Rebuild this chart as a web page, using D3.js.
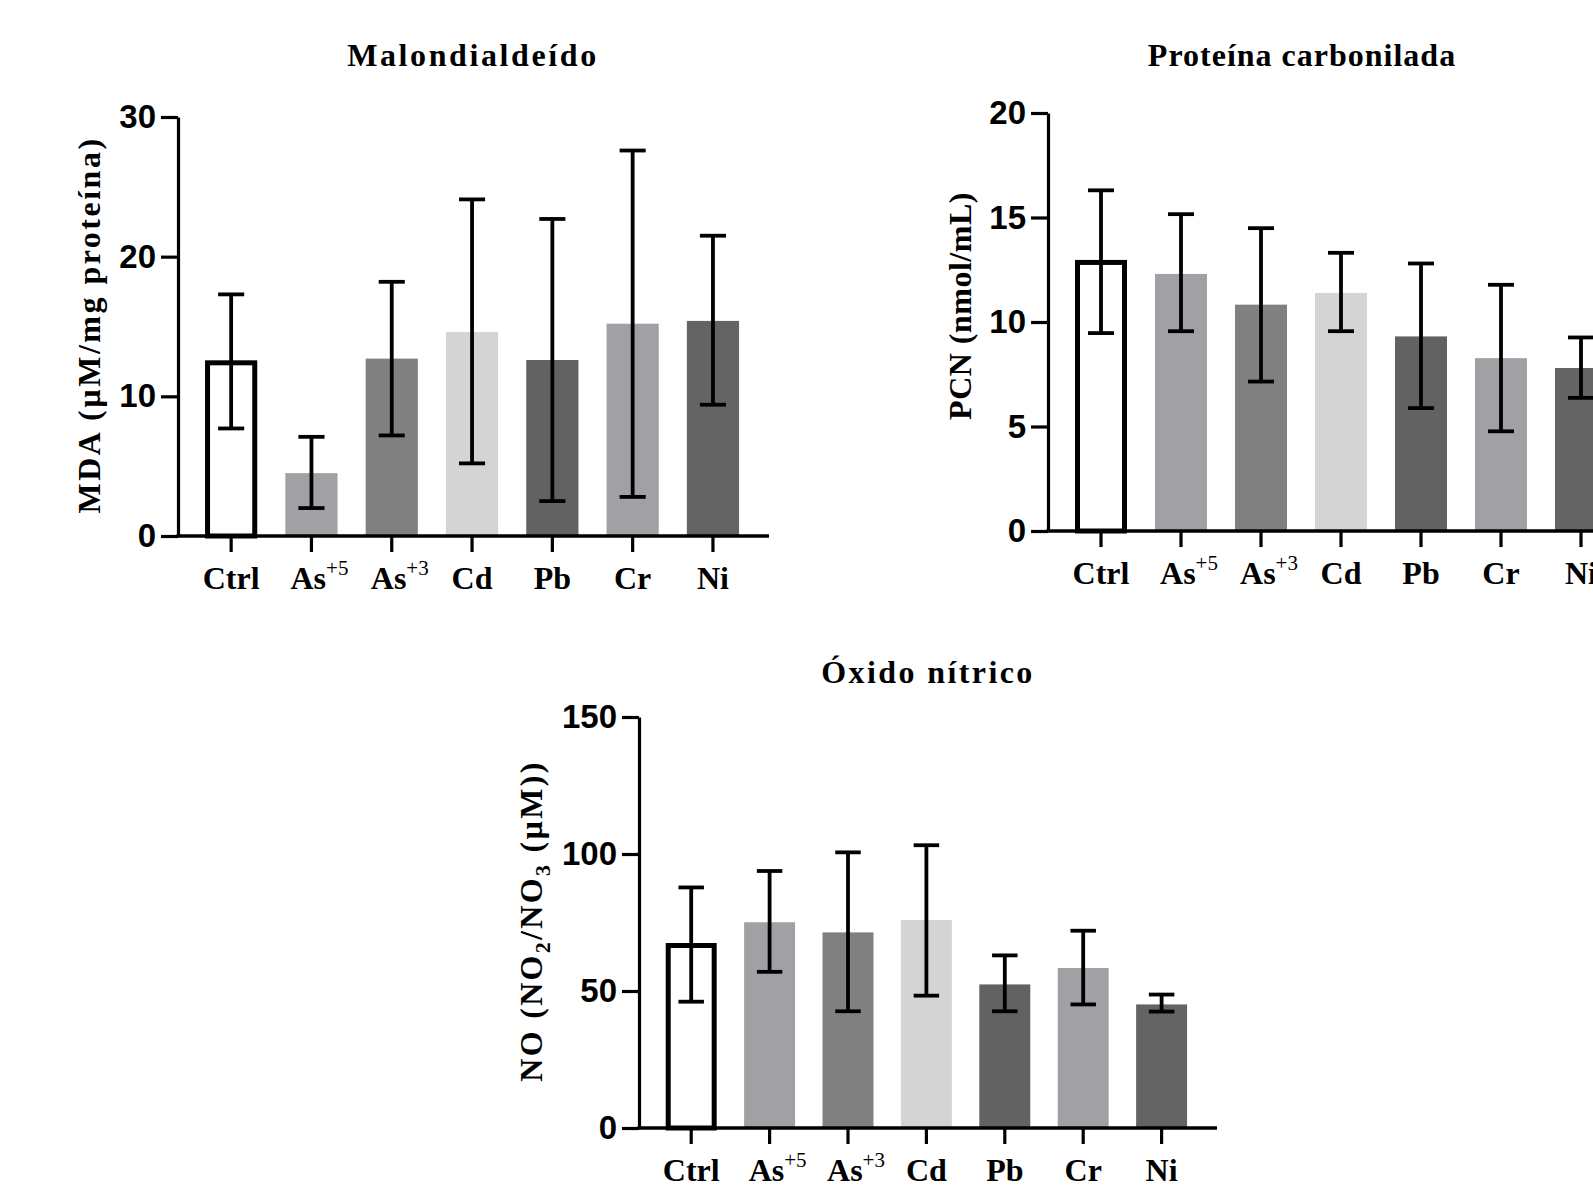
<!DOCTYPE html>
<meta charset="utf-8">
<head>
  <title>Estrés oxidativo</title>
  <script src="https://cdn.jsdelivr.net/npm/d3@7/dist/d3.min.js"></script>
  <style>
    body { margin: 0; background: #fff; }
    .tick text { font-family: "Liberation Sans", Arial, sans-serif; font-weight: bold; font-size: 33px; fill: #000; }
    .tick line, .domain { stroke: #000; stroke-width: 3.2px; }
    .cat { font-family: "Liberation Serif", "Times New Roman", serif; font-weight: bold; font-size: 32px; }
    .sup { font-weight: normal; font-size: 21px; }
    .title, .ylab { font-family: "Liberation Serif", "Times New Roman", serif; font-weight: bold; font-size: 32px; letter-spacing: 2.6px; }
  </style>
</head>
<body>
  <svg id="fig" width="1593" height="1190"></svg>
  <script>
    // groups on the x axis
    const categories = ["Ctrl", "As+5", "As+3", "Cd", "Pb", "Cr", "Ni"];
    const catBase = ["Ctrl", "As", "As", "Cd", "Pb", "Cr", "Ni"];
    const catSup = ["", "+5", "+3", "", "", "", ""];
    const barFills = ["#ffffff", "#a1a1a5", "#808080", "#d4d4d4", "#626262", "#a1a1a5", "#646464"];

    // Malondialdeído (µM/mg proteína)
    const mdaMean = [12.4, 4.5, 12.7, 14.6, 12.6, 15.2, 15.4];
    const mdaLow  = [7.7, 2.0, 7.2, 5.2, 2.5, 2.8, 9.4];
    const mdaHigh = [17.3, 7.1, 18.2, 24.1, 22.7, 27.6, 21.5];

    // Proteína carbonilada (nmol/mL)
    const pcnMean = [12.85, 12.3, 10.83, 11.39, 9.31, 8.27, 7.8];
    const pcnLow  = [9.47, 9.56, 7.15, 9.56, 5.88, 4.77, 6.37];
    const pcnHigh = [16.3, 15.16, 14.49, 13.31, 12.8, 11.78, 9.26];

    // Óxido nítrico (µM)
    const noMean = [66.6, 75.1, 71.4, 75.9, 52.4, 58.4, 45.1];
    const noLow  = [46.1, 57.0, 42.6, 48.3, 42.6, 45.1, 42.5];
    const noHigh = [87.8, 93.8, 100.6, 103.2, 63.0, 72.0, 48.7];

    const svg = d3.select("#fig");

    function panel(p) {
      const g = svg.append("g");

      const y = d3.scaleLinear().domain([0, p.max]).range([p.yBot, p.yTop]);
      const x = d3.scaleBand()
        .domain(categories)
        .range([p.x0 + 13, p.x0 + 13 + p.step * categories.length])
        .paddingInner(0.35)
        .paddingOuter(0.175);

      const rows = categories.map((c, i) => ({
        c: c, mean: p.mean[i], lo: p.low[i], hi: p.high[i], fill: barFills[i], i: i
      }));

      // bars
      g.append("g").selectAll("rect")
        .data(rows)
        .join("rect")
          .attr("x", d => x(d.c) + (d.i === 0 ? 2.5 : 0))
          .attr("width", d => x.bandwidth() - (d.i === 0 ? 5 : 0))
          .attr("y", d => y(d.mean))
          .attr("height", d => y(0) - y(d.mean))
          .attr("fill", d => d.fill)
          .attr("stroke", d => d.i === 0 ? "#000" : "none")
          .attr("stroke-width", 5);

      // error bars
      const cap = x.bandwidth() / 2;
      const eb = g.append("g").attr("stroke", "#000").attr("stroke-width", 3.8)
        .selectAll("g").data(rows).join("g")
          .attr("transform", d => `translate(${x(d.c) + x.bandwidth() / 2},0)`);
      eb.append("line").attr("y1", d => y(d.lo)).attr("y2", d => y(d.hi));
      eb.append("line").attr("x1", -cap / 2).attr("x2", cap / 2)
        .attr("y1", d => y(d.hi)).attr("y2", d => y(d.hi));
      eb.append("line").attr("x1", -cap / 2).attr("x2", cap / 2)
        .attr("y1", d => y(d.lo)).attr("y2", d => y(d.lo));

      // y axis
      g.append("g")
        .attr("transform", `translate(${p.x0},0)`)
        .call(d3.axisLeft(y).tickValues(p.ticks).tickSize(17).tickSizeOuter(0).tickPadding(5));

      // x axis
      const xa = g.append("g")
        .attr("transform", `translate(0,${p.yBot})`)
        .call(d3.axisBottom(x).tickSize(16).tickFormat(""));
      xa.select(".domain").remove();
      xa.append("line")
        .attr("x1", p.x0 - 1.6).attr("x2", p.xEnd)
        .attr("stroke", "#000").attr("stroke-width", 3.4);

      const lab = g.append("g").selectAll("text")
        .data(rows)
        .join("text")
          .attr("class", "cat")
          .attr("x", d => x(d.c) + x.bandwidth() / 2 + (catSup[d.i] ? 8 : 0))
          .attr("y", p.yBot + 53)
          .attr("text-anchor", "middle");
      lab.append("tspan").text(d => catBase[d.i]);
      lab.append("tspan").attr("class", "sup").attr("dy", -14).text(d => catSup[d.i]);

      // title
      g.append("text").attr("class", "title")
        .attr("x", p.titleX).attr("y", p.titleY)
        .attr("text-anchor", "middle")
        .style("letter-spacing", p.ls + "px")
        .text(p.title);

      // y label
      const yl = g.append("text").attr("class", "ylab")
        .attr("transform", `translate(${p.labX},${p.labY}) rotate(-90)`)
        .attr("text-anchor", "middle")
        .attr("dy", "0.35em")
        .style("letter-spacing", p.lsLab + "px");
      p.ylab.forEach(s => {
        const t = yl.append("tspan").text(s.t);
        if (s.sub) t.attr("dy", 8).attr("font-size", 22);
        if (s.back) t.attr("dy", -8);
      });
    }

    panel({
      mean: mdaMean, low: mdaLow, high: mdaHigh, max: 30, ticks: [0, 10, 20, 30],
      x0: 178, yTop: 117, yBot: 536, step: 80.3, xEnd: 769,
      title: "Malondialdeído", titleX: 473, titleY: 66, ls: 2.6, lsLab: 2.5,
      ylab: [{ t: "MDA (µM/mg proteína)" }], labX: 89, labY: 325
    });

    panel({
      mean: pcnMean, low: pcnLow, high: pcnHigh, max: 20, ticks: [0, 5, 10, 15, 20],
      x0: 1048, yTop: 113, yBot: 531, step: 80, xEnd: 1640,
      title: "Proteína carbonilada", titleX: 1302, titleY: 66, ls: 1.0, lsLab: 0.5,
      ylab: [{ t: "PCN (nmol/mL)" }], labX: 960, labY: 306
    });

    panel({
      mean: noMean, low: noLow, high: noHigh, max: 150, ticks: [0, 50, 100, 150],
      x0: 639, yTop: 717, yBot: 1128, step: 78.4, xEnd: 1217,
      title: "Óxido nítrico", titleX: 928, titleY: 683, ls: 2.4, lsLab: 2.3,
      ylab: [{ t: "NO (NO" }, { t: "2", sub: true }, { t: "/NO", back: true }, { t: "3", sub: true }, { t: " (µM))", back: true }],
      labX: 531, labY: 921
    });
  </script>
</body>
